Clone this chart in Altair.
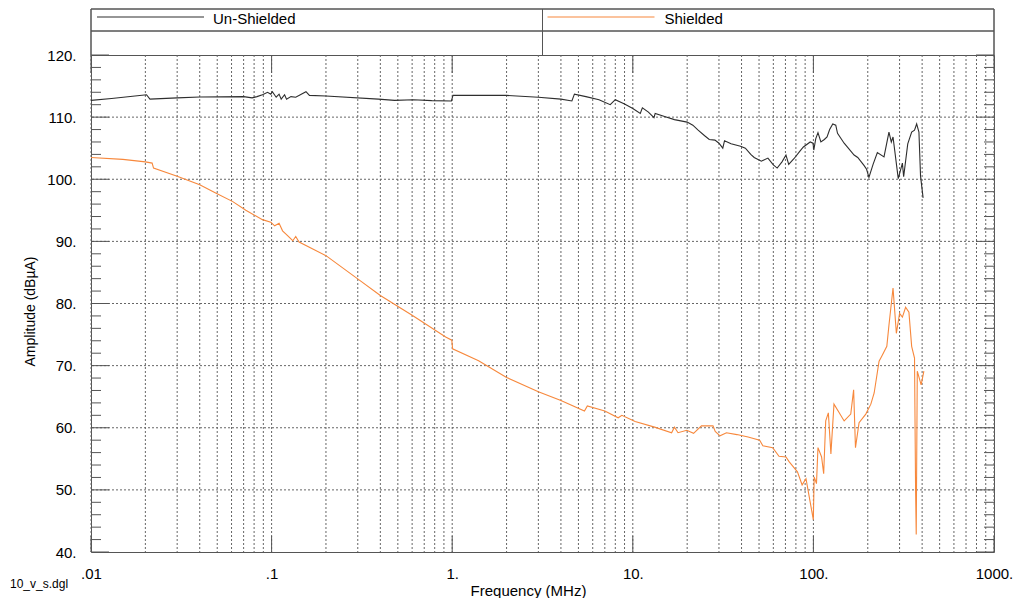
import altair as alt
import pandas as pd

# ---------------- data ----------------
series_names = ["Un-Shielded", "Shielded"]
series_colors = ["#2e2e2e", "#f7883c"]

unshielded_freq = [
    0.01, 0.013, 0.017, 0.0203, 0.0212, 0.03, 0.04, 0.07, 0.078, 0.083,
    0.089, 0.095, 0.099, 0.101, 0.106, 0.11, 0.113, 0.118, 0.121, 0.128,
    0.136, 0.155, 0.162, 0.2, 0.39, 0.48, 0.61, 0.77, 0.99, 1.01,
    2.0, 3.0, 4.0, 4.6, 4.75, 5.5, 6.5, 7.5, 8.0, 9.0,
    10.0, 11.0, 11.3, 12.2, 13.1, 13.3, 15.0, 17.0, 20.0, 21.5,
    23.0, 25.0, 26.5, 28.5, 30.0, 31.5, 32.2, 35.0, 39.5, 42.0,
    45.0, 47.0, 51.5, 56.0, 60.0, 63.0, 67.0, 70.5, 73.0, 78.0,
    84.0, 88.0, 96.0, 99.5, 100.5, 103.0, 106.0, 110.0, 115.0, 119.0,
    123.0, 128.0, 133.0, 136.0, 148.0, 154.0, 168.0, 176.0, 191.0, 197.0,
    203.0, 214.0, 226.0, 246.0, 262.0, 270.0, 276.0, 295.0, 311.0, 316.0,
    333.0, 350.0, 363.0, 373.0, 384.0, 392.0, 405.0,
]
unshielded_amp = [
    112.7, 113.0, 113.35, 113.6, 112.9, 113.1, 113.25, 113.3, 113.1, 113.3,
    113.6, 114.0, 113.7, 114.1, 113.2, 113.7, 112.9, 113.6, 112.9, 113.3,
    113.2, 114.1, 113.5, 113.4, 112.9, 112.7, 112.8, 112.65, 112.6, 113.5,
    113.5, 113.2, 112.9, 112.6, 113.7, 113.3, 112.8, 112.0, 112.8, 112.1,
    111.4, 110.6, 111.5, 110.8, 109.9, 110.6, 110.1, 109.6, 109.2, 108.7,
    107.9, 107.0, 106.4, 106.3, 105.8, 105.0, 106.2, 105.7, 105.3, 105.0,
    104.0, 103.5, 102.9, 103.4, 102.3, 101.8, 102.8, 103.9, 102.4, 103.3,
    104.5, 105.2, 106.0, 105.8, 104.7, 106.5, 107.5, 106.0, 106.4, 106.8,
    108.0, 108.9, 108.7, 107.4, 105.8, 105.2, 103.9, 103.5, 102.2, 101.6,
    100.3, 102.4, 104.3, 103.6, 107.6, 106.0, 106.8, 100.1, 102.6, 100.4,
    105.7, 107.6, 107.9, 108.9, 107.6, 100.5, 97.0,
]

shielded_freq = [
    0.01, 0.015, 0.02, 0.0218, 0.0222, 0.03, 0.04, 0.049, 0.061, 0.072,
    0.089, 0.099, 0.104, 0.11, 0.115, 0.123, 0.131, 0.136, 0.142, 0.2,
    0.305, 0.4, 0.6, 0.92, 0.995, 1.005, 1.4, 2.0, 3.0, 4.0,
    5.4, 5.6, 7.0, 8.3, 8.7, 10.3, 13.2, 16.4, 17.0, 17.8,
    19.9, 21.7, 24.0, 27.8, 28.6, 30.4, 33.0, 37.7, 43.5, 50.4,
    52.5, 59.5, 64.5, 70.5, 73.5, 81.6, 86.6, 91.0, 99.9, 101.0,
    104.0, 106.0, 111.0, 114.0, 117.0, 121.0, 125.0, 130.0, 139.0, 148.0,
    161.0, 167.0, 171.0, 179.0, 195.0, 208.0, 217.0, 231.0, 239.0, 255.0,
    262.0, 276.0, 288.0, 300.0, 311.0, 324.0, 338.0, 350.0, 363.0, 368.0,
    371.0, 376.0, 395.0, 409.0,
]
shielded_amp = [
    103.5, 103.2, 102.8, 102.6, 101.8, 100.5, 99.1, 97.8, 96.4, 95.0,
    93.5, 93.1, 92.5, 92.9, 91.7, 90.9, 90.1, 90.8, 89.9, 87.7,
    83.8, 81.3, 78.1, 74.6, 74.1, 72.7, 70.8, 68.1, 65.8, 64.4,
    62.7, 63.5, 62.7, 61.6, 62.0, 61.0, 60.1, 59.2, 60.1, 59.2,
    59.6, 59.1, 60.3, 60.3, 59.4, 58.7, 59.2, 58.9, 58.5, 58.0,
    57.1, 56.8, 55.4, 55.3, 54.5, 52.9, 50.8, 51.8, 45.2, 52.1,
    51.0, 56.8, 55.3, 52.6, 61.1, 62.4, 55.8, 63.8, 62.4, 61.1,
    62.2, 66.1, 56.8, 60.8, 62.2, 63.8, 65.6, 70.7, 71.5, 73.1,
    76.5, 82.5, 75.2, 78.4, 77.8, 79.4, 78.6, 73.1, 71.2, 49.9,
    42.8, 69.1, 66.9, 69.1,
]

x_decades = [0.01, 0.1, 1, 10, 100, 1000]
x_tick_labels = [".01", ".1", "1.", "10.", "100.", "1000."]
x_grid = [m * 10.0 ** e for e in range(-2, 3) for m in range(1, 10)] + [1000]
y_major = list(range(40, 121, 10))
y_minor = list(range(40, 121, 2))
x_title = "Frequency (MHz)"
y_title = "Amplitude (dBµA)"
footer_text = "10_v_s.dgl"

# ---------------- chart ----------------
W, H = 903, 497
FONT = "Liberation Sans"
FRAME = "#555555"
GRID = "#666666"

df = pd.concat([
    pd.DataFrame({"freq": unshielded_freq, "amp": unshielded_amp, "series": series_names[0]}),
    pd.DataFrame({"freq": shielded_freq, "amp": shielded_amp, "series": series_names[1]}),
], ignore_index=True)

xscale = alt.Scale(type="log", domain=[0.01, 1000], nice=False)
yscale = alt.Scale(domain=[40, 120], nice=False, zero=False)
cscale = alt.Scale(domain=series_names, range=series_colors)

lab_arr = "[" + ",".join("'%s'" % s for s in x_tick_labels) + "]"
val_arr = "[" + ",".join(repr(v) for v in x_decades) + "]"
x_label_expr = f"{lab_arr}[indexof({val_arr}, datum.value)]"

x_axis = alt.Axis(values=x_decades, labelExpr=x_label_expr, grid=False,
                  ticks=False, tickSize=0, domain=False, labelPadding=14,
                  labelFontSize=15, labelColor="#000", labelFlush=False,
                  labelOverlap=False, titleFontSize=15, titleFontWeight="normal",
                  titleColor="#000", titleX=437, titleY=H - 497 + 38,
                  titleBaseline="middle", titleAlign="center")
y_axis = alt.Axis(values=y_major, labelExpr="datum.value + '.'", grid=False,
                  ticks=False, tickSize=0, domain=False, labelPadding=15,
                  labelFontSize=15, labelColor="#000", labelFlush=False,
                  titleFontSize=14, titleFontWeight="normal", titleColor="#000",
                  titleX=-61, titleY=256, titleAngle=270,
                  titleBaseline="middle", titleAlign="center")


def X(field="freq:Q"):
    return alt.X(field, scale=xscale, title=x_title, axis=x_axis)


def Y(field="amp:Q"):
    return alt.Y(field, scale=yscale, title=y_title, axis=y_axis)


grid_x = alt.Chart(pd.DataFrame({"freq": x_grid})).mark_rule(
    stroke=GRID, strokeDash=[2, 2], strokeWidth=1
).encode(x=X())

grid_y = alt.Chart(pd.DataFrame({"amp": y_major[1:-1]})).mark_rule(
    stroke=GRID, strokeDash=[2, 2], strokeWidth=1
).encode(y=Y())

minor_df = pd.DataFrame({"amp": [v for v in y_minor if v % 10 != 0]})
major_df = pd.DataFrame({"amp": y_major})
dec_df = pd.DataFrame({"freq": x_decades})


def yticks(d, x0, x1):
    return alt.Chart(d).mark_rule(stroke=FRAME, strokeWidth=1).encode(
        y=Y(), x=alt.value(x0), x2=alt.value(x1))


def xticks(y0, y1):
    return alt.Chart(dec_df).mark_rule(stroke=FRAME, strokeWidth=1).encode(
        x=X(), y=alt.value(y0), y2=alt.value(y1))


tick_layers = [
    yticks(minor_df, 0, 10), yticks(major_df, 0, 18),
    yticks(minor_df, W - 10, W), yticks(major_df, W - 18, W),
    xticks(0, 18), xticks(H - 16, H),
]

lines = alt.Chart(df).mark_line(strokeWidth=1.1, interpolate="linear").encode(
    x=X(), y=Y(),
    color=alt.Color("series:N", scale=cscale, legend=None),
    detail="series:N",
)

# legend box drawn above the plot area
legend_df = pd.DataFrame({"series": series_names})
HALF = W / 2


def hrule(y):
    return alt.Chart(legend_df).mark_rule(stroke=FRAME, strokeWidth=1).encode(
        x=alt.value(0), x2=alt.value(W), y=alt.value(y))


def vrule(x):
    return alt.Chart(legend_df).mark_rule(stroke=FRAME, strokeWidth=1).encode(
        x=alt.value(x), y=alt.value(-46), y2=alt.value(0))


box = [hrule(-46), hrule(-24), vrule(0), vrule(W), vrule(HALF)]

legend_layers = []
for i, name in enumerate(series_names):
    base = alt.Chart(legend_df).transform_filter(alt.datum.series == name)
    x0 = 6 + i * (HALF - 1)
    legend_layers.append(base.mark_rule(strokeWidth=1.1).encode(
        x=alt.value(x0), x2=alt.value(x0 + 107), y=alt.value(-38),
        color=alt.Color("series:N", scale=cscale, legend=None)))
    legend_layers.append(base.mark_text(align="left", baseline="middle", fontSize=15,
                                        color="#000").encode(
        x=alt.value(x0 + 116 + i), y=alt.value(-36), text="series:N"))

footer = alt.Chart(pd.DataFrame({"t": [footer_text]})).mark_text(
    align="left", baseline="middle", fontSize=12, color="#000"
).encode(x=alt.value(-81), y=alt.value(H + 32), text="t:N")

chart = alt.layer(
    grid_x, grid_y, *tick_layers, lines, *box, *legend_layers, footer
).properties(
    width=W, height=H,
    padding={"left": 2, "top": 0, "right": 0, "bottom": 0},
).configure(font=FONT).configure_view(stroke=FRAME, strokeWidth=1)

chart.save("out.html", embed_options={"renderer": "svg", "actions": False})
